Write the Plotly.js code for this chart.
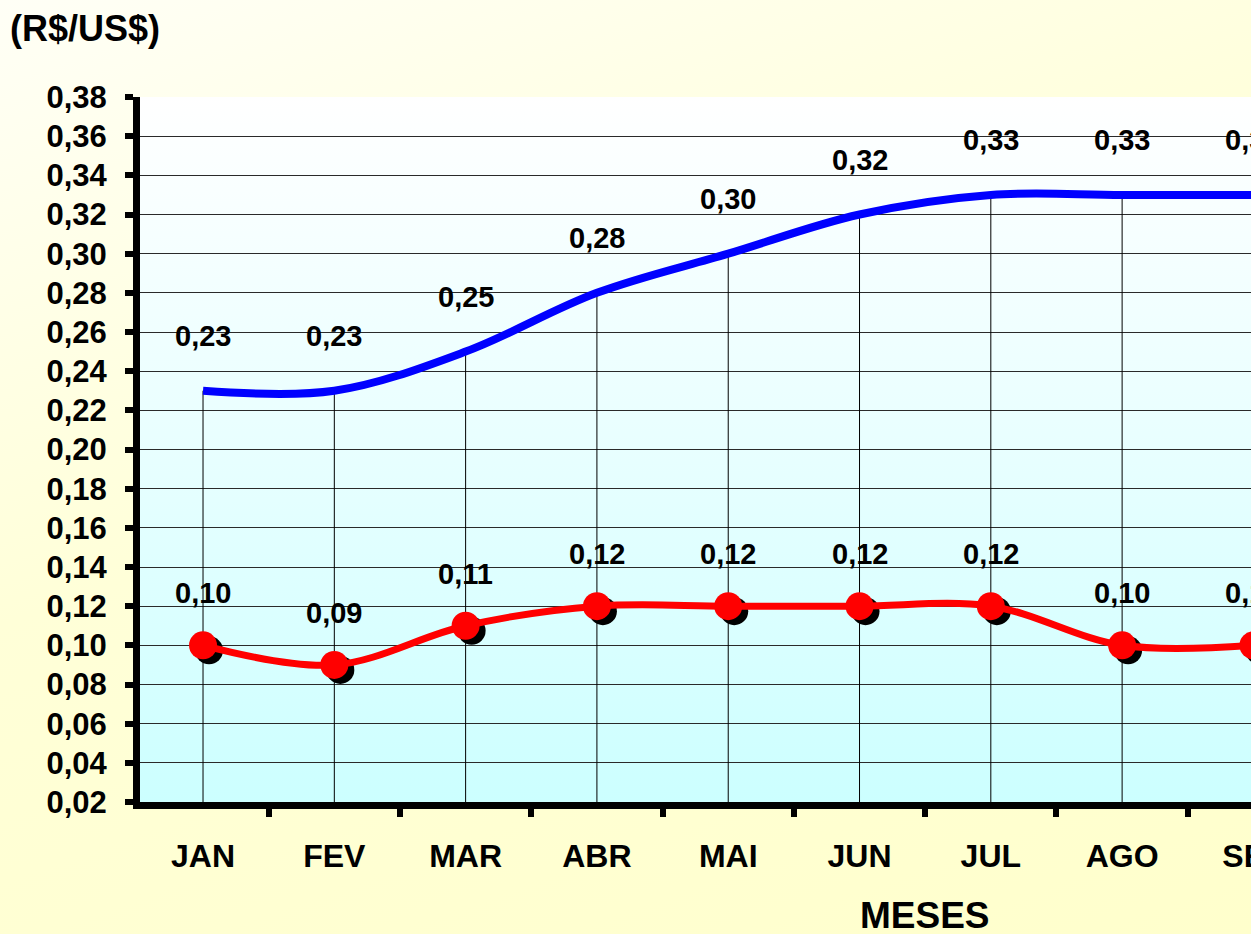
<!DOCTYPE html>
<html>
<head>
<meta charset="utf-8">
<script src="https://cdn.plot.ly/plotly-3.0.1.min.js"></script>
<style>
html, body { margin:0; padding:0; overflow:hidden; }
#wrap { position:relative; width:1251px; height:934px; overflow:hidden;
  background: linear-gradient(160deg, #fffff6 0%, #ffffd8 45%, #ffffcc 100%); }
#plotbg { position:absolute; left:140px; top:97px; width:1200px; height:705px;
  background: linear-gradient(to bottom, #ffffff 0%, #e8ffff 50%, #ccffff 100%); }
#chart { position:absolute; left:0; top:0; width:1320px; height:934px; }
</style>
</head>
<body>
<div id="wrap"><div id="plotbg"></div><div id="chart"></div></div>
<script>
// ---- data ----
const months = ['JAN','FEV','MAR','ABR','MAI','JUN','JUL','AGO','SET'];
const seriesUpper = [0.23, 0.23, 0.25, 0.28, 0.30, 0.32, 0.33, 0.33, 0.33];
const seriesLower = [0.10, 0.09, 0.11, 0.12, 0.12, 0.12, 0.12, 0.10, 0.10];
const yTitle = '(R$/US$)';
const xTitle = 'MESES';

// ---- geometry helpers ----
const W = 1320, H = 934;
const mL = 140, mR = 0, mT = 97, mB = 132;
const pxPerCat = 131.3;
const x0 = -0.48;
const x1 = x0 + (W - mL - mR) / pxPerCat;
const yMin = 0.02, yMax = 0.38;
const plotH = H - mT - mB;
const dx = 6 / pxPerCat;               // shadow offset right
const dy = 5 * (yMax - yMin) / plotH;  // shadow offset down

const FONT = 'Liberation Sans, Arial, sans-serif';
const fmt = v => v.toFixed(2).replace('.', ',');

const traces = [
  {
    x: months, y: seriesUpper, type: 'scatter', mode: 'lines',
    line: {color: '#0000ff', width: 8, shape: 'spline', smoothing: 1},
    error_y: {type: 'data', symmetric: false, array: seriesUpper.map(() => 0),
      arrayminus: seriesUpper.map(v => v - yMin), color: '#000000', thickness: 1, width: 0},
    hoverinfo: 'skip', showlegend: false, cliponaxis: true
  },
  {
    x: months, y: seriesLower, type: 'scatter', mode: 'markers',
    xaxis: 'x2', yaxis: 'y2',
    marker: {color: '#000000', size: 28},
    hoverinfo: 'skip', showlegend: false
  },
  {
    x: months, y: seriesLower, type: 'scatter', mode: 'lines+markers',
    xaxis: 'x3', yaxis: 'y3',
    line: {color: '#ff0000', width: 7, shape: 'spline', smoothing: 1},
    marker: {color: '#ff0000', size: 28},
    hoverinfo: 'skip', showlegend: false
  }
];

const annotations = [];
months.forEach((m, i) => {
  annotations.push({x: m, y: seriesUpper[i], xref: 'x', yref: 'y', text: fmt(seriesUpper[i]),
    showarrow: false, yshift: 55, xanchor: 'center', yanchor: 'middle',
    font: {family: FONT, size: 29, color: '#000', weight: 'bold'}});
  annotations.push({x: m, y: seriesLower[i], xref: 'x', yref: 'y', text: fmt(seriesLower[i]),
    showarrow: false, yshift: 52, xanchor: 'center', yanchor: 'middle',
    font: {family: FONT, size: 29, color: '#000', weight: 'bold'}});
});
annotations.push({x: 5.5, y: -(915 - (H - mB)) / plotH, xref: 'x', yref: 'paper', text: xTitle,
  showarrow: false, xanchor: 'center', yanchor: 'middle',
  font: {family: FONT, size: 37, color: '#000', weight: 'bold'}});

const hiddenAxis = {visible: false, showgrid: false, zeroline: false, fixedrange: true};

const layout = {
  width: W, height: H,
  margin: {l: mL, r: mR, t: mT, b: mB, pad: 0},
  paper_bgcolor: 'rgba(0,0,0,0)', plot_bgcolor: 'rgba(0,0,0,0)',
  font: {family: FONT, color: '#000'},
  title: {text: yTitle, x: 10 / W, xanchor: 'left', xref: 'container', yref: 'container',
    y: 1 - 28 / H, yanchor: 'middle', font: {family: FONT, size: 36, color: '#000', weight: 'bold'}},
  xaxis: {type: 'category', categoryorder: 'array', categoryarray: months,
    range: [x0, x1], showgrid: false, zeroline: false,
    showline: true, linecolor: '#000', linewidth: 7,
    ticks: 'outside', tickson: 'boundaries', ticklen: 8, tickwidth: 6, tickcolor: '#000',
    ticklabelstandoff: 20,
    tickfont: {family: FONT, size: 32, color: '#000', weight: 'bold'}},
  yaxis: {range: [yMin, yMax], dtick: 0.02, tick0: 0, tickformat: '.2f',
    showgrid: true, gridcolor: '#2a2a2a', gridwidth: 1, zeroline: false,
    showline: true, linecolor: '#000', linewidth: 7,
    ticks: 'outside', ticklen: 8, tickwidth: 6, tickcolor: '#000',
    ticklabelstandoff: 12,
    tickfont: {family: FONT, size: 31, color: '#000', weight: 'bold'}},
  xaxis2: Object.assign({overlaying: 'x', type: 'category', categoryorder: 'array', categoryarray: months,
    range: [x0 - dx, x1 - dx]}, hiddenAxis),
  yaxis2: Object.assign({overlaying: 'y', range: [yMin + dy, yMax + dy]}, hiddenAxis),
  xaxis3: Object.assign({overlaying: 'x', type: 'category', categoryorder: 'array', categoryarray: months,
    range: [x0, x1]}, hiddenAxis),
  yaxis3: Object.assign({overlaying: 'y', range: [yMin, yMax]}, hiddenAxis),
  separators: ',.',
  annotations: annotations,
  showlegend: false
};

Plotly.newPlot('chart', traces, layout, {staticPlot: true, displayModeBar: false});
</script>
</body>
</html>
